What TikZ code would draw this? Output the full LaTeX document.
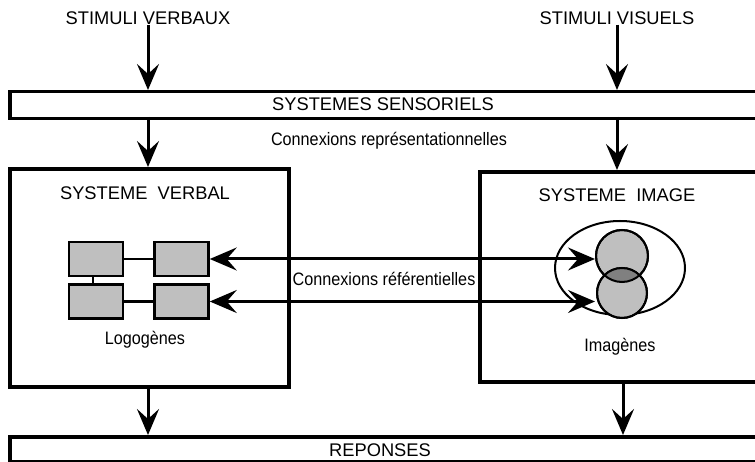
\documentclass[tikz,border=0pt]{standalone}
\usepackage{fontspec}
\setmainfont{Liberation Sans}
\newfontfamily\narrowfont[FakeStretch=0.9]{Liberation Sans}
\usetikzlibrary{arrows.meta}

\begin{document}
\begin{tikzpicture}[x=1pt, y=-1pt,
    txt/.style={font=\fontsize{18.3}{20}\selectfont, inner sep=0pt},
    small/.style={font=\narrowfont\fontsize{18}{20}\selectfont, inner sep=0pt},
    bar/.style={draw, line width=3.5pt, anchor=north west, minimum height=27pt, inner sep=0pt},
    sysbox/.style={draw, line width=4pt, anchor=north west, inner sep=0pt},
    logo/.style={draw, line width=2.5pt, fill=gray!50, minimum width=54pt, minimum height=34pt, inner sep=0pt},
    arr/.style={line width=3pt, -{Stealth[length=26pt, width=22pt, inset=10pt]}},
    twoarr/.style={line width=3pt, {Stealth[length=27pt, width=23pt, inset=10pt]}-{Stealth[length=27pt, width=23pt, inset=10pt]}}]
  \useasboundingbox (0,0) rectangle (755,462);

  % entrees
  \node[txt] (stimverb) at (148,18) {STIMULI VERBAUX};
  \node[txt] (stimvis) at (617,18) {STIMULI VISUELS};

  % barres
  \node[bar, minimum width=780pt] (sens) at (8,90) {};
  \node[txt] (senstxt) at (383,104) {SYSTEMES SENSORIELS};
  \node[bar, minimum width=780pt, minimum height=25pt] (rep) at (8,435) {};
  \node[txt] (reptxt) at (380,450) {REPONSES};

  \node[small] (repres) at (389,141) {Connexions représentationnelles};

  % systemes
  \node[sysbox, minimum width=279pt, minimum height=218pt] (verbal) at (8,167) {};
  \node[txt] (verbtxt) at (145,193) {SYSTEME\ \ VERBAL};
  \node[sysbox, minimum width=320pt, minimum height=210pt] (image) at (478,170) {};
  \node[txt] (imtxt) at (617,195) {SYSTEME\ \ IMAGE};

  % logogenes
  \node[logo] (lg1) at (96,259) {};
  \node[logo] (lg2) at (181.5,259) {};
  \node[logo] (lg3) at (96,301.5) {};
  \node[logo] (lg4) at (181.5,301.5) {};
  \draw[line width=2.5pt] (lg1.east) -- (lg2.west);
  \draw[line width=2.5pt] (lg3.east) -- (lg4.west);
  \draw[line width=2.5pt] (lg1.south) ++(-3,0) coordinate (v1) -- (v1 |- lg3.north);
  \node[small] (logotxt) at (145,340) {Logogènes};

  % imagenes
  \draw[line width=2pt] (620,268) ellipse [x radius=65, y radius=47];
  \node[draw, line width=2pt, circle, fill=gray!50, minimum size=52pt, inner sep=0pt] (c1) at (622,256) {};
  \node[draw, line width=2pt, circle, fill=gray!50, minimum size=50pt, inner sep=0pt] (c2) at (622,293) {};
  \begin{scope}
    \clip (622,256) circle [radius=26];
    \fill[gray] (622,293) circle [radius=25];
  \end{scope}
  \draw[line width=2pt] (622,256) circle [radius=26];
  \draw[line width=2pt] (622,293) circle [radius=25];
  \node[small] (imgtxt) at (620,347) {Imagènes};

  % connexions
  \draw[arr] (stimverb.south) -- (stimverb.south |- sens.north);
  \draw[arr] (stimvis.south) -- (stimvis.south |- sens.north);
  \draw[arr] (148,117) -- (148,167);
  \draw[arr] (617,117) -- (617,170);
  \draw[arr] (148,385) -- (148,435);
  \draw[arr] (623,380) -- (623,435);

  \draw[twoarr] (lg2.east) -- (lg2.east -| c1.west);
  \draw[twoarr] (lg4.east) -- ([xshift=-1pt]lg4.east -| c2.west);
  \node[small] (refer) at (384,279) {Connexions référentielles};
\end{tikzpicture}
\end{document}
